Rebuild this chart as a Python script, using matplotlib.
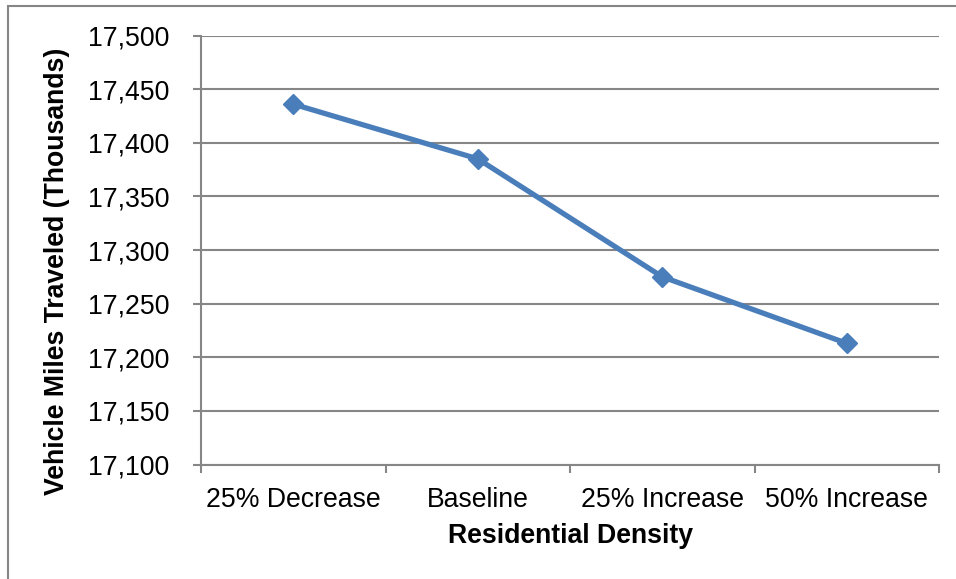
import matplotlib
matplotlib.use("Agg")
import matplotlib.pyplot as plt
from matplotlib.patches import Rectangle
from matplotlib.ticker import FuncFormatter, FixedLocator

categories = ["25% Decrease", "Baseline", "25% Increase", "50% Increase"]
vmt_thousands = [17436, 17385, 17275, 17213]
y_ticks = [17100, 17150, 17200, 17250, 17300, 17350, 17400, 17450, 17500]

plt.rcParams["font.family"] = ["Liberation Sans", "DejaVu Sans"]

W, H = 956, 579
fig = plt.figure(figsize=(W / 100, H / 100), dpi=100)
ax = fig.add_axes([201 / W, 1 - 464.5 / H, (939 - 201) / W, (464.5 - 35.5) / H])

grey = "#868686"
blue = "#4a7ebb"
fs = 19.2

x = list(range(len(categories)))
ax.plot(x, vmt_thousands, color=blue, lw=3.8, marker="D", markersize=10.5,
        markerfacecolor=blue, markeredgecolor=blue, markeredgewidth=1, zorder=3,
        solid_joinstyle="round")

ax.set_xlim(-0.5, len(categories) - 0.5)
ax.set_ylim(y_ticks[0], y_ticks[-1])
ax.set_yticks(y_ticks)
ax.yaxis.set_major_formatter(FuncFormatter(lambda v, p: f"{int(v):,}"))
ax.grid(axis="y", color=grey, lw=1.5)
ax.set_axisbelow(True)

ax.set_xticks(x)
ax.set_xticklabels(categories)
ax.xaxis.set_minor_locator(FixedLocator([i - 0.5 for i in range(len(categories) + 1)]))
ax.tick_params(axis="x", which="major", length=0, pad=16, labelsize=fs)
ax.tick_params(axis="x", which="minor", length=6, width=1.5, color=grey)
ax.tick_params(axis="y", length=6, width=1.5, color=grey, pad=17, labelsize=fs)

for s in ("top", "right"):
    ax.spines[s].set_visible(False)
for s in ("left", "bottom"):
    ax.spines[s].set_color(grey)
    ax.spines[s].set_linewidth(1.5)

fig.text(570 / W, 1 - 536 / H, "Residential Density", ha="center", va="center",
         fontsize=fs, fontweight="bold")
fig.text(57 / W, 1 - 271 / H, "Vehicle Miles Traveled (Thousands)", ha="center",
         va="center", rotation=90, fontsize=fs, fontweight="bold")

fig.patches.append(Rectangle((8 / W, -0.1), 1.2, 1 - 6 / H + 0.1, transform=fig.transFigure,
                             fill=False, edgecolor=grey, lw=1.5))

fig.savefig("out.png", dpi=100)
